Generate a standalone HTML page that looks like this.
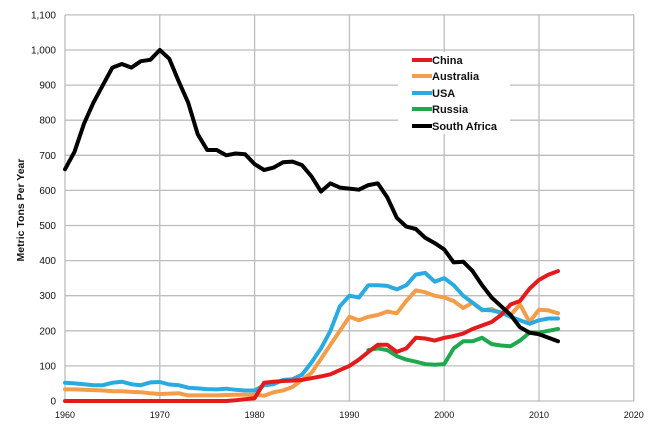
<!DOCTYPE html>
<html><head><meta charset="utf-8"><style>
html,body{margin:0;padding:0;background:#fff;}
svg{display:block;font-family:"Liberation Sans",sans-serif;}
</style></head><body>
<svg id="c" width="668" height="433" viewBox="0 0 668 433" xmlns="http://www.w3.org/2000/svg">
<rect width="668" height="433" fill="#fff"/>
<g id="grid" stroke="#bdbdbd" stroke-width="1.3"></g>
<g id="labels" font-size="10" fill="#111"></g>
<text transform="translate(24,210) rotate(-90)" text-anchor="middle" font-size="10.5" font-weight="bold" fill="#111">Metric Tons Per Year</text>
<g id="series" fill="none" stroke-width="4" stroke-linejoin="round" stroke-linecap="round"></g>
<rect x="398" y="52" width="112" height="82" fill="#fff"/>
<g font-size="11" font-weight="bold" fill="#111">
<line x1="412" y1="60" x2="432" y2="60" stroke="#e41a1c" stroke-width="4"/><text x="432" y="64">China</text>
<line x1="412" y1="76" x2="432" y2="76" stroke="#f39c4a" stroke-width="4"/><text x="432" y="80">Australia</text>
<line x1="412" y1="93" x2="432" y2="93" stroke="#29abe2" stroke-width="4"/><text x="432" y="97">USA</text>
<line x1="412" y1="109" x2="432" y2="109" stroke="#1fa84f" stroke-width="4"/><text x="432" y="113">Russia</text>
<line x1="412" y1="126" x2="432" y2="126" stroke="#000" stroke-width="4"/><text x="432" y="130">South Africa</text>
</g>
</svg>
<script>
const X=y=>65+(y-1960)*9.48, Y=v=>401-v*0.351;
const g=document.getElementById('grid'),L=document.getElementById('labels'),ns='http://www.w3.org/2000/svg';
function el(p,t,a,txt){const e=document.createElementNS(ns,t);for(const k in a)e.setAttribute(k,a[k]);if(txt!=null)e.textContent=txt;p.appendChild(e);return e;}
for(let v=0;v<=1100;v+=100){el(g,'line',{x1:65,x2:634,y1:Y(v),y2:Y(v)});el(L,'text',{x:56,y:Y(v)+3.5,'text-anchor':'end'},v>=1000?(v/1000|0)+','+String(v%1000).padStart(3,'0'):v);}
for(let y=1960;y<=2020;y+=10){el(g,'line',{x1:X(y),x2:X(y),y1:Y(0),y2:Y(1100)});el(L,'text',{x:X(y),y:418,'text-anchor':'middle','font-size':9},y);}
const S={
"#1fa84f":[1992,145,150,145,128,118,112,105,103,105,150,170,170,180,162,158,156,172,195,195,200,205],
"#f39c4a":[1960,33,33,32,31,30,28,28,26,25,22,20,21,22,16,16,16,16,17,18,18,18,15,25,30,40,60,80,120,160,200,240,230,240,245,255,250,285,315,310,300,295,285,265,280,258,262,250,245,275,225,260,258,250],
"#29abe2":[1960,52,50,48,45,45,52,55,48,45,53,54,47,45,38,36,34,33,35,32,30,30,45,48,60,62,75,110,150,200,270,300,295,330,330,328,318,330,360,365,340,350,330,300,280,260,258,252,240,230,220,230,235,235],
"#e41a1c":[1960,0,0,0,0,0,0,0,0,0,0,0,0,0,0,0,0,0,0,2,5,8,52,55,57,58,60,65,70,76,88,100,118,140,160,160,140,150,180,178,172,180,185,192,205,215,225,245,275,285,320,345,360,370],
"#000":[1960,660,710,790,850,900,950,960,950,968,972,1000,975,910,850,760,715,715,700,705,703,675,658,665,680,682,672,640,597,620,608,605,602,615,620,580,522,497,490,465,450,432,395,397,370,330,295,270,245,210,195,190,180,170]};
const sg=document.getElementById('series');
for(const c in S){const a=S[c],y0=a[0];const pts=a.slice(1).map((v,i)=>X(y0+i).toFixed(1)+','+Y(v).toFixed(1)).join(' ');el(sg,'polyline',{points:pts,stroke:c});}
</script>
</body></html>
